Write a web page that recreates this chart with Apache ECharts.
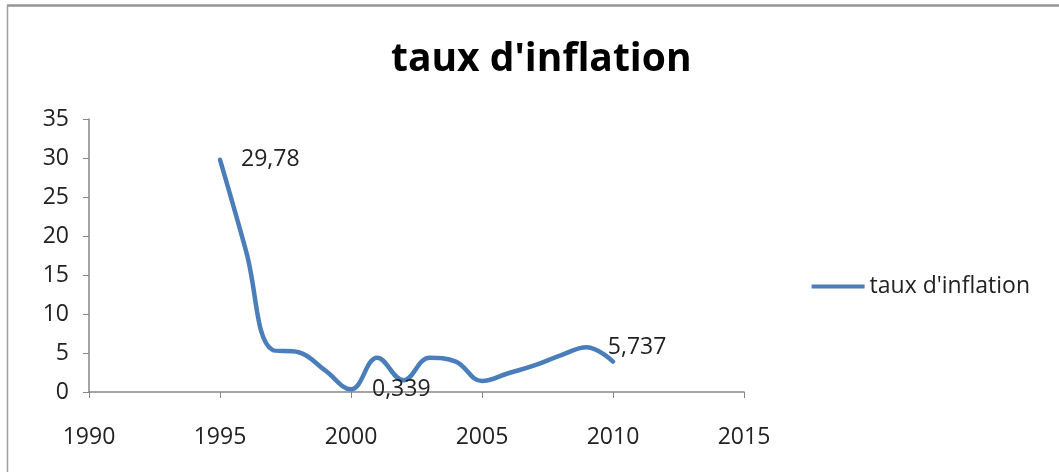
<!DOCTYPE html>
<html>
<head>
<meta charset="utf-8">
<script src="https://cdn.jsdelivr.net/npm/echarts@6/dist/echarts.min.js"></script>
<style>
html,body{margin:0;padding:0;background:#fff;}
#chart{width:1059px;height:472px;}
</style>
</head>
<body>
<div id="chart"></div>
<script>
const years = [1995, 1996, 1997, 1998, 1999, 2000, 2001, 2002, 2003, 2004, 2005, 2006, 2007, 2008, 2009, 2010];
const values = [29.78, 18, 5.4, 5.1, 2.8, 0.339, 4.4, 1.5, 4.4, 3.9, 1.4, 2.4, 3.4, 4.7, 5.737, 3.9];
const labeledYears = [1995, 2000, 2009];
const seriesName = "taux d'inflation";
const titleText = "taux d'inflation";

const FONT = '"Open Sans", sans-serif';
const data = years.map((y, i) => {
  const item = { value: [y, values[i]] };
  if (labeledYears.includes(y)) {
    item.label = { show: true };
  }
  return item;
});

const chart = echarts.init(document.getElementById('chart'));
chart.setOption({
  animation: false,
  backgroundColor: '#fff',
  title: {
    text: titleText,
    left: 386,
    top: 35,
    textStyle: { fontFamily: FONT, fontWeight: 'bold', fontSize: 39, color: '#000' }
  },
  legend: {
    data: [seriesName],
    right: 24,
    top: 270,
    icon: 'rect',
    itemWidth: 53,
    itemHeight: 4,
    textStyle: { fontFamily: FONT, fontSize: 23, color: '#222' }
  },
  graphic: [
    { type: 'line', shape: { x1: 7, y1: 5.5, x2: 1059, y2: 5.5 }, style: { stroke: '#959595', lineWidth: 2.5 } },
    { type: 'line', shape: { x1: 7.5, y1: 5, x2: 7.5, y2: 472 }, style: { stroke: '#a0a0a0', lineWidth: 1.5 } }
  ],
  grid: { left: 89, right: 315, top: 119, bottom: 80 },
  xAxis: {
    type: 'value',
    min: 1990,
    max: 2015,
    interval: 5,
    axisLine: { lineStyle: { color: '#868686', width: 1.5 } },
    axisTick: { show: true, length: 6, lineStyle: { color: '#868686' } },
    splitLine: { show: false },
    axisLabel: { margin: 34, fontFamily: FONT, fontSize: 23, color: '#222', formatter: v => String(v) }
  },
  yAxis: {
    type: 'value',
    min: 0,
    max: 35,
    interval: 5,
    axisLine: { show: true, lineStyle: { color: '#868686', width: 1.5 } },
    axisTick: { show: true, length: 6, lineStyle: { color: '#868686' } },
    splitLine: { show: false },
    axisLabel: { margin: 20, fontFamily: FONT, fontSize: 23, color: '#222' }
  },
  series: [{
    name: seriesName,
    type: 'line',
    smooth: 0.4,
    symbol: 'circle',
    symbolSize: 0,
    showSymbol: true,
    data: data,
    lineStyle: { color: '#4A7EBB', width: 4.5, cap: 'round', join: 'round' },
    itemStyle: { color: '#4A7EBB' },
    label: {
      show: false,
      position: 'right',
      distance: 21,
      fontFamily: FONT,
      fontSize: 23,
      color: '#222',
      formatter: p => String(p.value[1]).replace('.', ',')
    }
  }]
});
</script>
</body>
</html>
